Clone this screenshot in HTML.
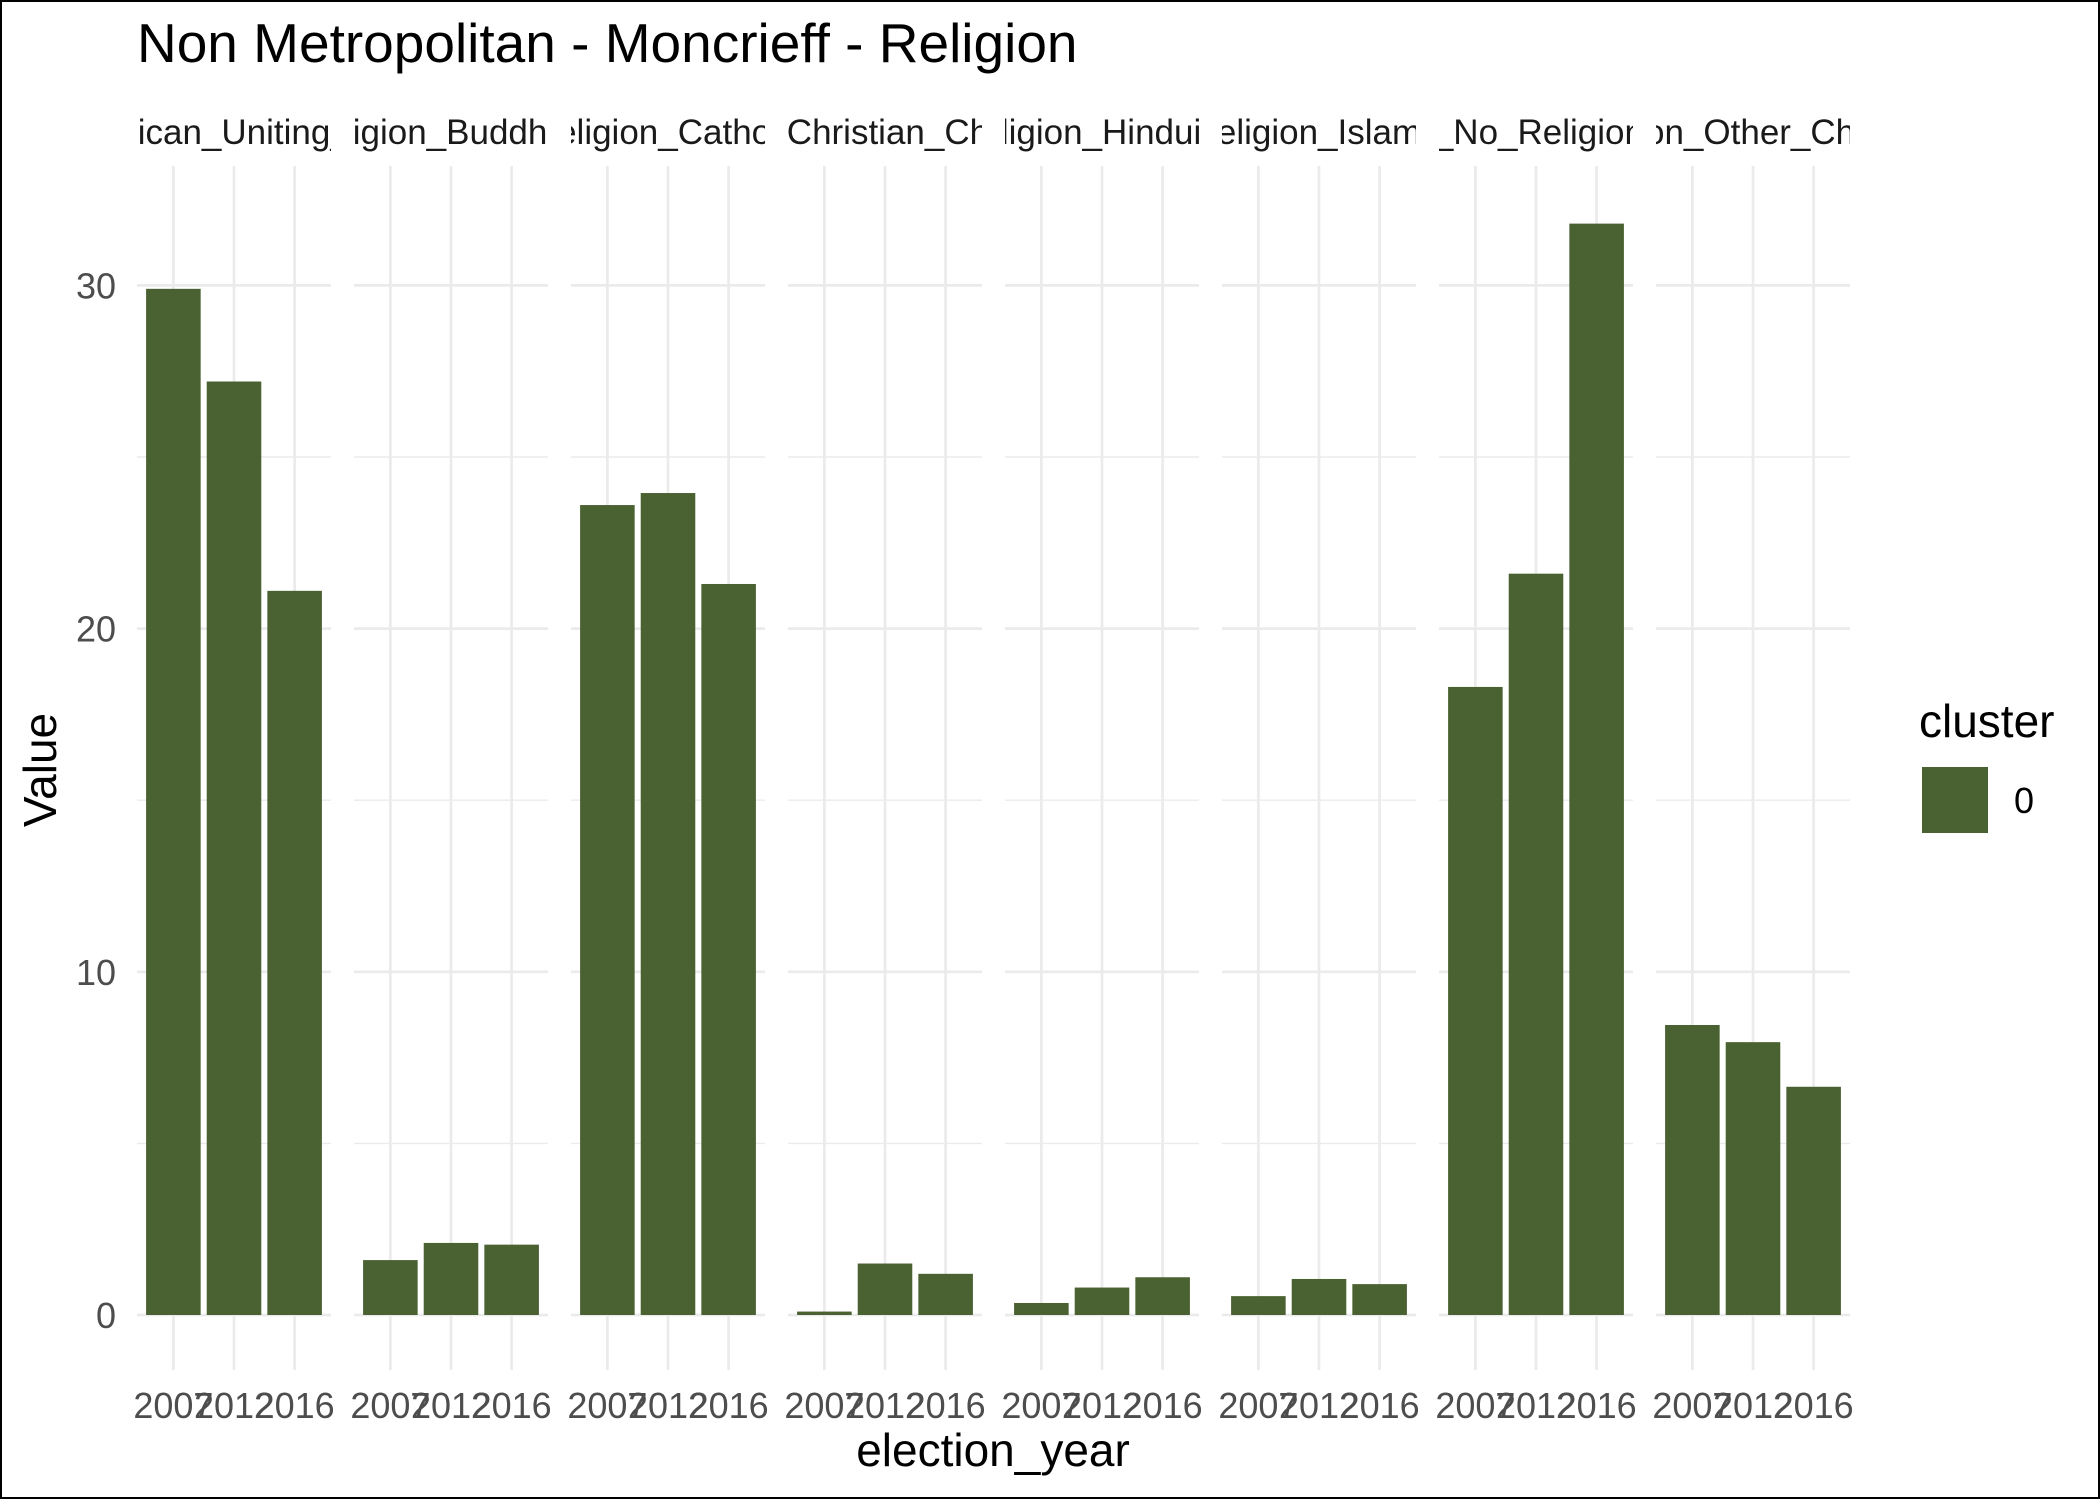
<!DOCTYPE html>
<html><head><meta charset="utf-8"><style>
html,body{margin:0;padding:0;background:#fff}
svg{display:block;font-family:"Liberation Sans",Arial,sans-serif}
</style></head><body>
<svg id="chart" width="2100" height="1499" viewBox="0 0 2100 1499" xmlns="http://www.w3.org/2000/svg">
<rect x="1" y="1" width="2098" height="1497" fill="#fff" stroke="#000" stroke-width="2"/>
<text x="137" y="62" font-size="55" fill="#000">Non Metropolitan - Moncrieff - Religion</text>
<g id="grid"></g>
<g id="bars"></g>
<g id="labels"></g>
<text x="993" y="1466" font-size="46" text-anchor="middle" fill="#000">election_year</text>
<text transform="translate(56,770) rotate(-90)" font-size="46" text-anchor="middle" fill="#000">Value</text>
<g>
<text x="1919" y="737" font-size="46" fill="#000">cluster</text>
<rect x="1922" y="767" width="66" height="66" fill="#4A6131"/>
<text x="2014" y="813" font-size="36" fill="#000">0</text>
</g>
</svg>
<script>
const facets = ["Religion_Anglican_Uniting_Presbyterian","Religion_Buddhism","Religion_Catholic","Religion_Christian_Charismatic","Religion_Hinduism","Religion_Islamic","Religion_No_Religion_Stated","Religion_Other_Christian"];
const years = ["2007","2012","2016"];
const values = [
  [29.9, 27.2, 21.1],
  [1.6, 2.1, 2.05],
  [23.6, 23.95, 21.3],
  [0.1, 1.5, 1.2],
  [0.35, 0.8, 1.1],
  [0.55, 1.05, 0.9],
  [18.3, 21.6, 31.8],
  [8.45, 7.95, 6.65]
];
const yTicks = [0, 10, 20, 30];
const yMinor = [5, 15, 25];

const NS = "http://www.w3.org/2000/svg";
const panelX0 = 137, panelStep = 217, panelW = 194;
const gridTop = 166, gridBottom = 1370;
const y0 = 1315, yPerUnit = 34.32;
function yScale(v){ return y0 - v * yPerUnit; }
const bandW = panelW / (years.length + 0.2);
function xScale(p, i){ return panelX0 + p * panelStep + bandW * 0.6 + bandW * i; }
function mk(tag, attrs, parent){ const e = document.createElementNS(NS, tag); for (const k in attrs) e.setAttribute(k, attrs[k]); parent.appendChild(e); return e; }

const grid = document.getElementById('grid');
const bars = document.getElementById('bars');
const labels = document.getElementById('labels');
const defs = mk('defs', {}, document.getElementById('chart'));

facets.forEach((f, p) => {
  const px = panelX0 + p * panelStep;
  yMinor.forEach(t => {
    const l = mk('line', {x1: px, x2: px + panelW, y1: yScale(t), y2: yScale(t), stroke: '#EBEBEB', 'stroke-width': 1.4}, grid);
    
    
  });
  yTicks.forEach(t => {
    const l = mk('line', {x1: px, x2: px + panelW, y1: yScale(t), y2: yScale(t), stroke: '#EBEBEB', 'stroke-width': 2.7}, grid);
    
    
  });
  years.forEach((yr, i) => {
    const x = xScale(p, i);
    const l = mk('line', {x1: x, x2: x, y1: gridTop, y2: gridBottom, stroke: '#EBEBEB', 'stroke-width': 2.7}, grid);
    
    
    const v = values[p][i];
    const bw = bandW * 0.9;
    const r = mk('rect', {x: x - bw / 2, y: yScale(v), width: bw, height: y0 - yScale(v), fill: '#4A6131'}, bars);
    
    
    const t = mk('text', {x: x, y: 1418, 'font-size': 36, 'text-anchor': 'middle', fill: '#4D4D4D'}, labels);
    t.textContent = yr;
    
    
  });
  const cp = mk('clipPath', {id: 'clip' + p}, defs);
  mk('rect', {x: px, y: 100, width: panelW, height: 60}, cp);
  const st = mk('text', {x: px + panelW / 2, y: 144, 'font-size': 35, 'text-anchor': 'middle', fill: '#1A1A1A', 'clip-path': 'url(#clip' + p + ')'}, labels);
  st.textContent = f;
  
  
});
yTicks.forEach(t => {
  const e = mk('text', {x: 116, y: yScale(t) + 13, 'font-size': 36, 'text-anchor': 'end', fill: '#4D4D4D'}, labels);
  e.textContent = t;
  
  
});
</script>
</body></html>
